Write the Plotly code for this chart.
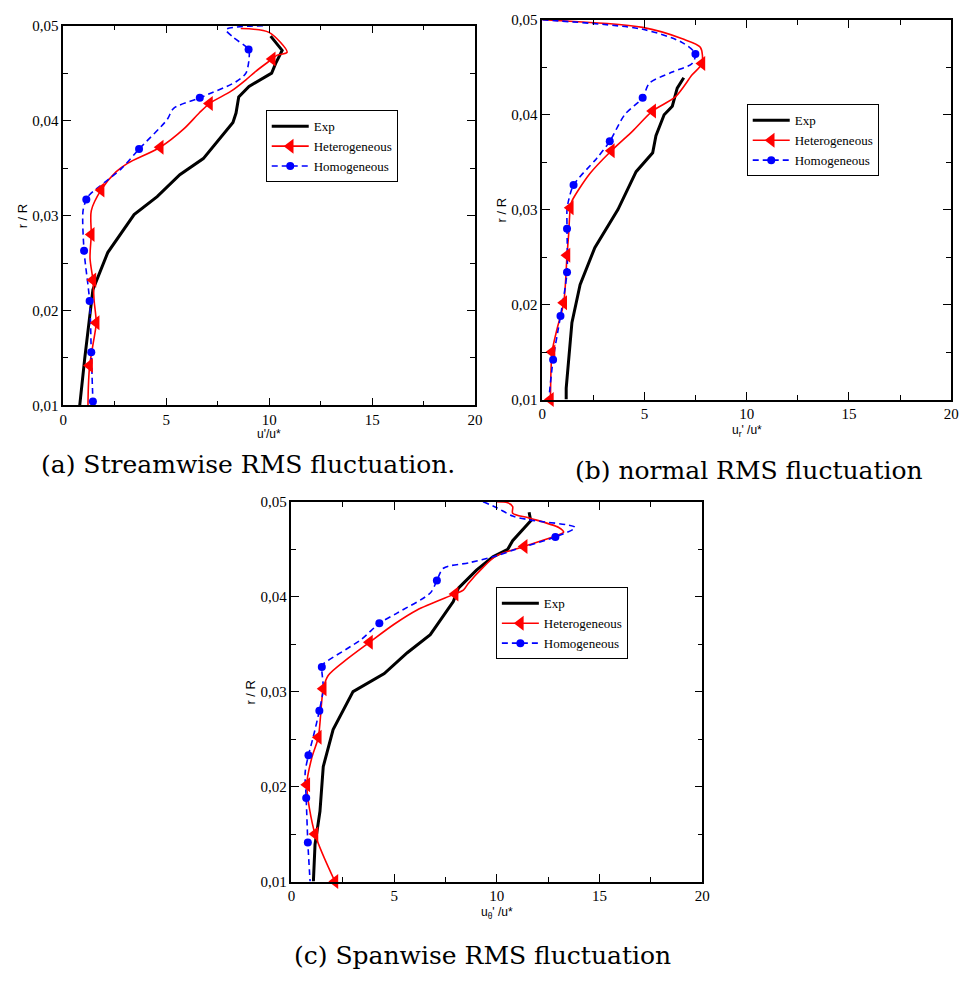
import plotly.graph_objects as go

# ---------------- Panel (a): streamwise ----------------
a_exp_x = [10.07, 10.63, 10.31, 10.12, 9.02, 8.52, 8.39, 8.24, 6.80, 5.66, 4.56, 3.44, 2.16, 1.44, 1.04, 0.80]
a_exp_y = [0.0489, 0.0474, 0.0460, 0.0450, 0.0436, 0.0425, 0.0408, 0.0398, 0.0360, 0.0343, 0.0320, 0.0301, 0.0261, 0.0222, 0.0149, 0.0100]

a_het_x = [8.62, 9.99, 10.87, 10.39, 10.15, 9.35, 8.87, 8.15, 7.10, 6.60, 5.84, 4.71, 3.12, 2.56, 1.84, 1.36, 1.36, 1.30, 1.44, 1.50, 1.60, 1.45, 1.28, 1.22, 1.20]
a_het_y = [0.0497, 0.0493, 0.0472, 0.0469, 0.0465, 0.0452, 0.0443, 0.0431, 0.0418, 0.0408, 0.0391, 0.0372, 0.0355, 0.0346, 0.0327, 0.0305, 0.0280, 0.0255, 0.0232, 0.0210, 0.0187, 0.0165, 0.0142, 0.0120, 0.0100]
a_het_mk = [4, 8, 11, 14, 16, 18, 20, 22]

a_hom_x = [9.70, 7.90, 8.24, 9.00, 9.03, 8.87, 8.39, 6.63, 5.36, 5.04, 3.68, 2.80, 1.28, 1.12, 0.96, 1.01, 1.28, 1.36, 1.44]
a_hom_y = [0.0500, 0.0496, 0.0488, 0.0475, 0.0467, 0.0450, 0.0441, 0.0424, 0.0413, 0.0401, 0.0370, 0.0349, 0.0322, 0.0317, 0.0305, 0.0263, 0.0210, 0.0156, 0.0104]
a_hom_mk = [3, 7, 10, 13, 15, 16, 17, 18]

# ---------------- Panel (b): normal ----------------
b_exp_x = [6.92, 6.60, 6.36, 5.96, 5.56, 5.40, 4.59, 3.70, 2.57, 1.85, 1.45, 1.17, 1.17]
b_exp_y = [0.0439, 0.0428, 0.0409, 0.0400, 0.0378, 0.0360, 0.0340, 0.0300, 0.0260, 0.0221, 0.0181, 0.0112, 0.0100]

b_het_x = [0.00, 4.91, 6.85, 7.73, 7.81, 7.33, 6.52, 5.40, 4.43, 3.38, 2.33, 1.45, 1.37, 1.29, 1.21, 1.05, 0.72, 0.48, 0.40]
b_het_y = [0.0500, 0.0492, 0.0480, 0.0471, 0.0454, 0.0442, 0.0419, 0.0404, 0.0383, 0.0362, 0.0338, 0.0309, 0.0302, 0.0274, 0.0252, 0.0202, 0.0174, 0.0150, 0.0100]
b_het_mk = [4, 7, 9, 12, 14, 15, 17, 18]

b_hom_x = [0.00, 4.91, 6.85, 7.49, 7.33, 6.36, 5.23, 4.91, 4.03, 3.30, 2.66, 1.53, 1.29, 1.21, 1.21, 1.21, 0.89, 0.53, 0.32]
b_hom_y = [0.0500, 0.0490, 0.0476, 0.0464, 0.0454, 0.0445, 0.0433, 0.0418, 0.0400, 0.0372, 0.0354, 0.0326, 0.0310, 0.0300, 0.0280, 0.0234, 0.0188, 0.0142, 0.0100]
b_hom_mk = [3, 7, 9, 11, 14, 15, 16, 17]

# ---------------- Panel (c): spanwise ----------------
c_exp_x = [11.57, 11.65, 10.77, 10.53, 9.81, 9.01, 8.13, 7.88, 6.76, 5.64, 4.52, 3.00, 2.03, 1.55, 1.39, 1.15, 1.07]
c_exp_y = [0.0489, 0.0480, 0.0459, 0.0450, 0.0442, 0.0428, 0.0409, 0.0395, 0.0360, 0.0341, 0.0319, 0.0300, 0.0260, 0.0221, 0.0174, 0.0139, 0.0100]

c_het_x = [9.97, 10.53, 10.77, 10.77, 11.57, 13.01, 13.25, 12.85, 11.33, 9.97, 9.33, 8.61, 8.37, 7.97, 6.12, 5.00, 3.80, 2.75, 1.79, 1.55, 1.31, 1.00, 0.75, 1.15, 2.12]
c_het_y = [0.0500, 0.0499, 0.0495, 0.0488, 0.0483, 0.0473, 0.0468, 0.0464, 0.0453, 0.0443, 0.0431, 0.0414, 0.0407, 0.0403, 0.0386, 0.0371, 0.0352, 0.0335, 0.0317, 0.0303, 0.0252, 0.0231, 0.0202, 0.0150, 0.0100]
c_het_mk = [8, 13, 16, 19, 20, 22, 23, 24]

c_hom_x = [9.33, 9.97, 10.77, 11.57, 13.81, 12.85, 10.93, 9.97, 8.69, 7.40, 7.08, 6.76, 5.16, 4.28, 3.40, 1.55, 1.48, 1.55, 1.36, 1.07, 0.83, 0.67, 0.72, 0.80, 0.91]
c_hom_y = [0.0500, 0.0494, 0.0485, 0.0481, 0.0473, 0.0463, 0.0450, 0.0443, 0.0436, 0.0430, 0.0417, 0.0404, 0.0383, 0.0372, 0.0355, 0.0329, 0.0326, 0.0303, 0.0280, 0.0253, 0.0233, 0.0215, 0.0188, 0.0141, 0.0100]
c_hom_mk = [5, 10, 13, 16, 18, 20, 22, 23]

legend_names = ["Exp", "Heterogeneous", "Homogeneous"]
x_titles = ["u'/u*", "u<sub>r</sub>' /u*", "u<sub>θ</sub>' /u*"]
captions = ["(a) Streamwise RMS fluctuation.", "(b) normal RMS fluctuation", "(c) Spanwise RMS fluctuation"]
x_ticks = [0, 5, 10, 15, 20]
y_ticks = [0.01, 0.02, 0.03, 0.04, 0.05]

W, H = 973, 981
# plot areas in pixels: (left, right, top, bottom)
boxes = [(60, 477, 18, 404), (545, 959, 12, 398), (291, 707, 502, 888)]
legend_pos = [(265, 104), (752, 98), (498, 589)]
caption_pos = [(247, 464), (754, 470), (484, 963)]
xtitle_off = [29, 32, 32]

panels = [
    (a_exp_x, a_exp_y, a_het_x, a_het_y, a_het_mk, a_hom_x, a_hom_y, a_hom_mk),
    (b_exp_x, b_exp_y, b_het_x, b_het_y, b_het_mk, b_hom_x, b_hom_y, b_hom_mk),
    (c_exp_x, c_exp_y, c_het_x, c_het_y, c_het_mk, c_hom_x, c_hom_y, c_hom_mk),
]

RED = "#ff0000"
BLUE = "#0000ff"
SERIF = "Liberation Serif"
SANS = "Liberation Sans"

fig = go.Figure()
layout = dict(width=W, height=H, autosize=False, margin=dict(l=0, r=0, t=0, b=0, pad=0),
              paper_bgcolor="white", plot_bgcolor="white", separators=",.",
              annotations=[])

for i, (ex, ey, hx, hy, hmk, mx, my, mmk) in enumerate(panels):
    k = "" if i == 0 else str(i + 1)
    xa, ya = "x" + k, "y" + k
    lg = "legend" if i == 0 else "legend" + str(i + 1)
    l, r, t, b = boxes[i]
    # lines
    fig.add_trace(go.Scatter(x=ex, y=ey, mode="lines", xaxis=xa, yaxis=ya, showlegend=False,
                             line=dict(color="black", width=3)))
    fig.add_trace(go.Scatter(x=hx, y=hy, mode="lines", xaxis=xa, yaxis=ya, showlegend=False,
                             line=dict(color=RED, width=1.6, shape="spline", smoothing=0.8)))
    fig.add_trace(go.Scatter(x=mx, y=my, mode="lines", xaxis=xa, yaxis=ya, showlegend=False,
                             line=dict(color=BLUE, width=1.6, dash="6px,4px", shape="spline", smoothing=0.8)))
    # markers
    fig.add_trace(go.Scatter(x=[hx[j] for j in hmk], y=[hy[j] for j in hmk], mode="markers",
                             xaxis=xa, yaxis=ya, showlegend=False, cliponaxis=False,
                             marker=dict(symbol="triangle-left", size=13, color=RED)))
    fig.add_trace(go.Scatter(x=[mx[j] for j in mmk], y=[my[j] for j in mmk], mode="markers",
                             xaxis=xa, yaxis=ya, showlegend=False, cliponaxis=False,
                             marker=dict(symbol="circle", size=8, color=BLUE)))
    # legend entries
    fig.add_trace(go.Scatter(x=[None], y=[None], mode="lines", name=legend_names[0], xaxis=xa, yaxis=ya,
                             legend=lg, line=dict(color="black", width=3)))
    fig.add_trace(go.Scatter(x=[None], y=[None], mode="lines+markers", name=legend_names[1], xaxis=xa, yaxis=ya,
                             legend=lg, line=dict(color=RED, width=1.6),
                             marker=dict(symbol="triangle-left", size=13, color=RED)))
    fig.add_trace(go.Scatter(x=[None], y=[None], mode="lines+markers", name=legend_names[2], xaxis=xa, yaxis=ya,
                             legend=lg, line=dict(color=BLUE, width=1.6, dash="6px,4px"),
                             marker=dict(symbol="circle", size=8, color=BLUE)))

    axcommon = dict(showgrid=False, zeroline=False, showline=True, linecolor="black", linewidth=1.5,
                    mirror="ticks", ticks="inside", ticklen=8, tickwidth=1, tickcolor="black",
                    tickfont=dict(family=SERIF, size=15, color="black"))
    layout["xaxis" + k] = dict(axcommon, domain=[l / W, r / W], range=[0, 20], tickvals=x_ticks,
                               minor=dict(dtick=2.5, ticks="inside", ticklen=5, tickcolor="black", showgrid=False),
                               anchor=ya)
    layout["yaxis" + k] = dict(axcommon, domain=[1 - b / H, 1 - t / H], range=[0.01, 0.05], tickvals=y_ticks,
                               tickformat=".2f",
                               minor=dict(dtick=0.005, ticks="inside", ticklen=5, tickcolor="black", showgrid=False),
                               anchor=xa)
    lx, ly = legend_pos[i]
    layout[lg] = dict(x=lx / W, y=1 - ly / H, xanchor="left", yanchor="top", bgcolor="white",
                      bordercolor="black", borderwidth=1, font=dict(family=SERIF, size=13, color="black"),
                      tracegroupgap=0, itemwidth=37)
    # axis titles
    layout["annotations"].append(dict(text=x_titles[i], x=(l + r) / 2 / W, y=1 - (b + xtitle_off[i]) / H,
                                      xref="paper", yref="paper", showarrow=False,
                                      xanchor="center", yanchor="middle",
                                      font=dict(family=SANS, size=12, color="black")))
    layout["annotations"].append(dict(text="r / R", x=(l - 41) / W, y=1 - (t + b) / 2 / H,
                                      xref="paper", yref="paper", showarrow=False, textangle=-90,
                                      xanchor="center", yanchor="middle",
                                      font=dict(family=SANS, size=13, color="black")))
    cx, cy = caption_pos[i]
    layout["annotations"].append(dict(text=captions[i], x=cx / W, y=1 - cy / H, xref="paper", yref="paper",
                                      showarrow=False, xanchor="center", yanchor="middle",
                                      font=dict(family="DejaVu Serif", size=25, color="black")))

fig.update_layout(**layout)
fig.write_html("out.html", config={"displayModeBar": False},
               post_script="document.documentElement.style.margin='0';document.body.style.margin='0';"
                           "document.body.style.overflow='hidden';")
